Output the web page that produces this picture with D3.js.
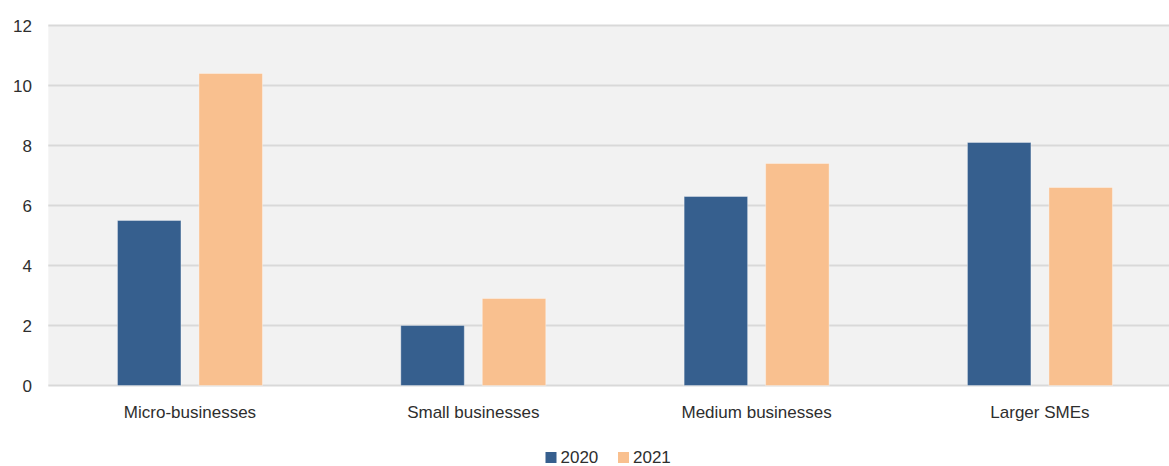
<!DOCTYPE html>
<html>
<head>
<meta charset="utf-8">
<script src="https://cdn.jsdelivr.net/npm/d3@7"></script>
<style>
  html, body { margin: 0; padding: 0; background: #ffffff; }
  svg { display: block; }
  text { font-family: "Liberation Sans", Arial, sans-serif; fill: #2e2e2e; }
</style>
</head>
<body>
<svg id="chart" width="1169" height="466"></svg>
<script>
// Business size categories
const categories = ["Micro-businesses", "Small businesses", "Medium businesses", "Larger SMEs"];
// Series
const seriesNames = ["2020", "2021"];
const values2020 = [5.5, 2.0, 6.3, 8.1];
const values2021 = [10.4, 2.9, 7.4, 6.6];
// Y axis ticks
const yTicks = [0, 2, 4, 6, 8, 10, 12];

const colors = { "2020": "#365f8e", "2021": "#f9c08f" };

const svg = d3.select("#chart");
const W = 1169;

const plot = { left: 48.3, right: 1181.6, top: 25.5, bottom: 385.5 };

const x0 = d3.scaleBand()
  .domain(categories)
  .range([plot.left, plot.right])
  .paddingInner(0)
  .paddingOuter(0);

const x1 = d3.scaleBand()
  .domain(seriesNames)
  .range([0, x0.bandwidth()])
  .paddingInner(0.221)
  .paddingOuter(0.849);

const y = d3.scaleLinear()
  .domain([0, 12])
  .range([plot.bottom, plot.top]);

// Plot background
svg.append("rect")
  .attr("x", plot.left)
  .attr("y", plot.top)
  .attr("width", W - plot.left)
  .attr("height", plot.bottom - plot.top)
  .attr("fill", "#f2f2f2");

// Gridlines
svg.append("g")
  .selectAll("line")
  .data(yTicks)
  .join("line")
  .attr("x1", plot.left)
  .attr("x2", W)
  .attr("y1", d => y(d))
  .attr("y2", d => y(d))
  .attr("stroke", "#d9d9d9")
  .attr("stroke-width", 2);

// Y tick labels
svg.append("g")
  .selectAll("text")
  .data(yTicks)
  .join("text")
  .attr("x", 32)
  .attr("y", d => y(d))
  .attr("dy", "0.36em")
  .attr("text-anchor", "end")
  .attr("font-size", 17)
  .text(d => d);

// Bars
const rows = categories.map((c, i) => ({
  category: c,
  values: [
    { series: "2020", value: values2020[i] },
    { series: "2021", value: values2021[i] }
  ]
}));

const groups = svg.append("g")
  .selectAll("g")
  .data(rows)
  .join("g")
  .attr("transform", d => `translate(${x0(d.category)},0)`);

groups.selectAll("rect")
  .data(d => d.values)
  .join("rect")
  .attr("x", d => x1(d.series))
  .attr("width", x1.bandwidth())
  .attr("y", d => y(d.value))
  .attr("height", d => y(0) - y(d.value))
  .attr("fill", d => colors[d.series])
  .attr("stroke", "rgba(255,255,255,0.35)")
  .attr("stroke-width", 1);

// Category labels
svg.append("g")
  .selectAll("text")
  .data(categories)
  .join("text")
  .attr("x", d => x0(d) + x0.bandwidth() / 2)
  .attr("y", 418)
  .attr("text-anchor", "middle")
  .attr("font-size", 17)
  .text(d => d);

// Legend
const legendItems = [
  { name: "2020", x: 545.5 },
  { name: "2021", x: 618 }
];
const legend = svg.append("g");
legend.selectAll("rect")
  .data(legendItems)
  .join("rect")
  .attr("x", d => d.x)
  .attr("y", 452)
  .attr("width", 11)
  .attr("height", 11)
  .attr("fill", d => colors[d.name]);
legend.selectAll("text")
  .data(legendItems)
  .join("text")
  .attr("x", d => d.x + 15)
  .attr("y", 462.5)
  .attr("font-size", 17)
  .text(d => d.name);
</script>
</body>
</html>
